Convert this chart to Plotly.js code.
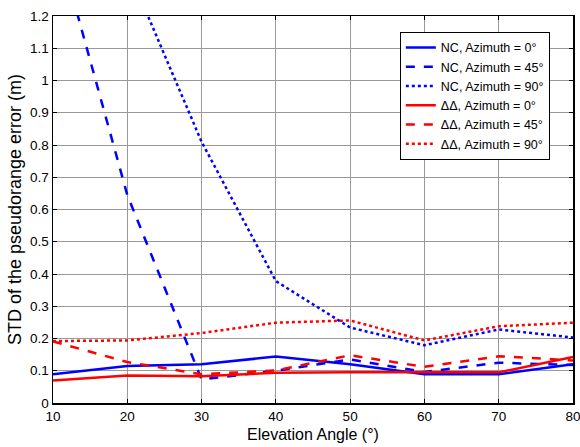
<!DOCTYPE html>
<html>
<head>
<meta charset="utf-8">
<script src="https://cdn.plot.ly/plotly-3.0.1.min.js"></script>
<style>html,body{margin:0;padding:0;background:#fff;}#chart{width:580px;height:447px;}</style>
</head>
<body>
<div id="chart"></div>
<script>
const elevation = [10, 20, 30, 40, 50, 60, 70, 80];
const seriesNames = [
  'NC, Azimuth = 0°', 'NC, Azimuth = 45°', 'NC, Azimuth = 90°',
  'ΔΔ, Azimuth = 0°', 'ΔΔ, Azimuth = 45°', 'ΔΔ, Azimuth = 90°'
];
const ncAz0  = [0.089, 0.115, 0.120, 0.144, 0.120, 0.089, 0.089, 0.120];
const ncAz45 = [1.48, 0.645, 0.073, 0.100, 0.135, 0.096, 0.125, 0.118];
const ncAz90 = [1.90, 1.35, 0.81, 0.378, 0.234, 0.179, 0.228, 0.203];
const ddAz0  = [0.070, 0.085, 0.083, 0.094, 0.095, 0.095, 0.095, 0.143];
const ddAz45 = [0.191, 0.127, 0.089, 0.101, 0.148, 0.112, 0.145, 0.132];
const ddAz90 = [0.192, 0.194, 0.217, 0.249, 0.256, 0.194, 0.238, 0.249];
const yTickVals = [0, 0.1, 0.2, 0.3, 0.4, 0.5, 0.6, 0.7, 0.8, 0.9, 1, 1.1, 1.2];
const yTickText = ['0', '0.1', '0.2', '0.3', '0.4', '0.5', '0.6', '0.7', '0.8', '0.9', '1', '1.1', '1.2'];
const xTickVals = [10, 20, 30, 40, 50, 60, 70, 80];
const xTickText = ['10', '20', '30', '40', '50', '60', '70', '80'];

const allY = [ncAz0, ncAz45, ncAz90, ddAz0, ddAz45, ddAz90];
const colors = ['#0000ff', '#0000ff', '#0000ff', '#ff0000', '#ff0000', '#ff0000'];
const dashes = ['solid', 'dash', 'dot', 'solid', 'dash', 'dot'];

const traces = allY.map((y, i) => ({
  x: elevation, y: y, type: 'scatter', mode: 'lines', name: seriesNames[i],
  line: {color: colors[i], width: 2.5, dash: dashes[i]}
}));

const font = 'Liberation Sans, Arial, sans-serif';
const layout = {
  width: 580, height: 447,
  margin: {l: 53, r: 7, t: 16, b: 44},
  paper_bgcolor: '#fff', plot_bgcolor: '#fff',
  font: {family: font, color: '#000', size: 13.5},
  showlegend: true,
  legend: {
    x: 0.667, y: 0.959, xanchor: 'left', yanchor: 'top',
    bgcolor: '#fff', bordercolor: '#000', borderwidth: 1,
    font: {family: font, size: 12.5, color: '#000'}
  },
  xaxis: {
    range: [10, 80.0001], tickvals: xTickVals, ticktext: xTickText, ticks: 'inside', ticklen: 4,
    ticklabeloverflow: 'allow',
    tickcolor: '#000', showline: true, linecolor: '#000', linewidth: 1.5, mirror: 'ticks',
    showgrid: true, gridcolor: '#999999', gridwidth: 1, zeroline: false,
    tickfont: {size: 13.5},
    title: {text: 'Elevation Angle (°)', font: {size: 16}, standoff: 6}
  },
  yaxis: {
    range: [0, 1.2], tickvals: yTickVals, ticktext: yTickText, ticks: 'inside', ticklen: 4,
    tickcolor: '#000', showline: true, linecolor: '#000', linewidth: 1.5, mirror: 'ticks',
    showgrid: true, gridcolor: '#999999', gridwidth: 1, zeroline: false,
    tickfont: {size: 13.5},
    title: {text: 'STD of the pseudorange error (m)', font: {size: 18}, standoff: 3}
  }
};
Plotly.newPlot('chart', traces, layout, {displayModeBar: false, staticPlot: true});
</script>
</body>
</html>
